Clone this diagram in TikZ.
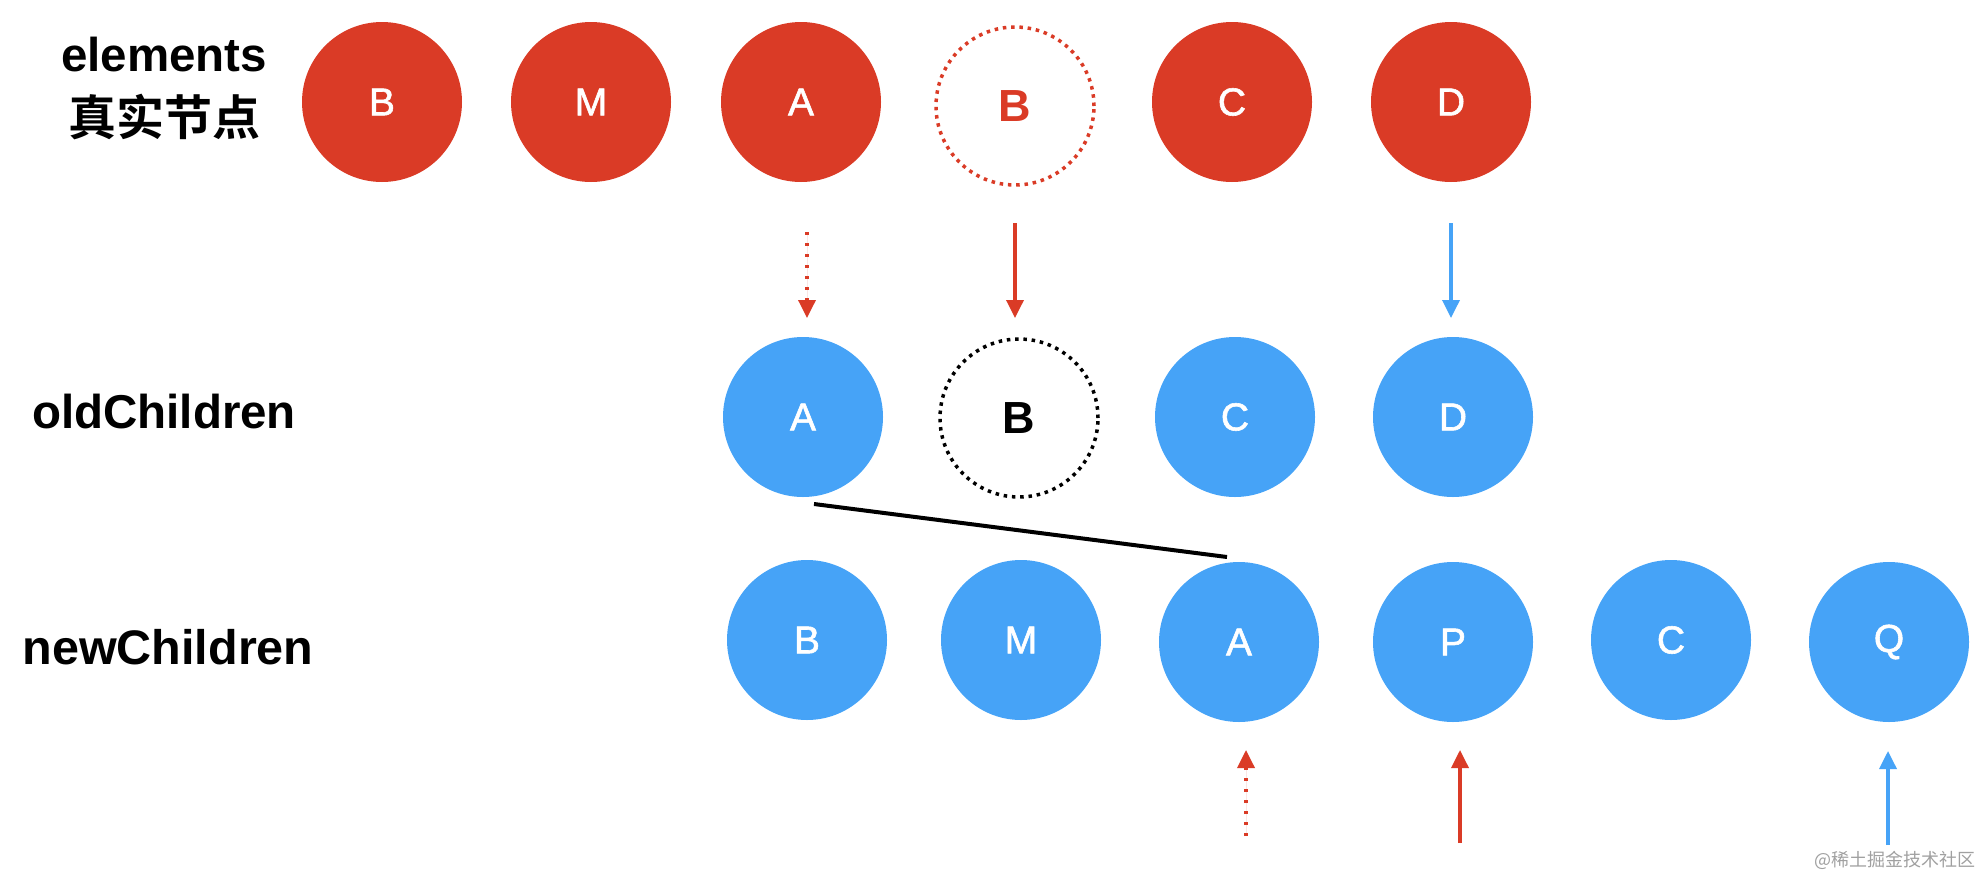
\documentclass[tikz,border=0pt]{standalone}
\usepackage{fontspec}
\setmainfont{Liberation Sans}
\newfontfamily\letterfont{Liberation Sans}[FakeBold=1.5]
\newfontfamily\cjk{Noto Sans CJK SC}
\newfontfamily\cjkb{Noto Sans CJK SC Bold}
\usetikzlibrary{arrows.meta}
\definecolor{kred}{HTML}{DA3B26}
\definecolor{kblue}{HTML}{46A3F7}
\definecolor{wmgray}{HTML}{A0A0A0}
\tikzset{
  ball/.style={circle, minimum size=160pt, inner sep=0pt, text=white,
    font=\letterfont\fontsize{39}{41}\selectfont},
  redball/.style={ball, fill=kred},
  blueball/.style={ball, fill=kblue},
  ghost/.style={circle, minimum size=158pt, inner sep=0pt, line width=3.5pt,
    dash pattern=on 3.5pt off 4.8pt, font=\bfseries\fontsize{45}{47}\selectfont},
  rowlabel/.style={inner sep=0pt, font=\bfseries\fontsize{47.5}{49}\selectfont},
  arr/.style={line width=3.5pt, -{Triangle[length=18pt,width=17pt]}},
  dotarr/.style={arr, dash pattern=on 3pt off 8pt},
}
\begin{document}
\begin{tikzpicture}[x=1pt,y=-1pt]
\useasboundingbox (0,0) rectangle (1982,876);
% labels
\node[rowlabel] (lel) at (164,55) {elements};
\node[inner sep=0pt, font=\cjkb\fontsize{48}{50}\selectfont] (lzs) at (164,117) {真实节点};
\node[rowlabel] (lold) at (164,412) {oldChildren};
\node[rowlabel, font=\bfseries\fontsize{48.5}{50}\selectfont] (lnew) at (168,647) {newChildren};
% elements row
\node[redball] (eB) at (382,102) {B};
\node[redball] (eM) at (591,102) {M};
\node[redball] (eA) at (801,102) {A};
\node[ghost, draw=kred, text=kred] (eB2) at (1015,106) {B};
\node[redball] (eC) at (1232,102) {C};
\node[redball] (eD) at (1451,102) {D};
% oldChildren row
\node[blueball] (oA) at (803,417) {A};
\node[ghost, draw=black, text=black] (oB) at (1019,418) {B};
\node[blueball] (oC) at (1235,417) {C};
\node[blueball] (oD) at (1453,417) {D};
% newChildren row
\node[blueball] (nB) at (807,640) {B};
\node[blueball] (nM) at (1021,640) {M};
\node[blueball] (nA) at (1239,642) {A};
\node[blueball] (nP) at (1453,642) {P};
\node[blueball] (nC) at (1671,640) {C};
\node[blueball] (nQ) at (1889,642) {Q};
% arrow endpoints
\coordinate (t1s) at (807,232);  \coordinate (t1e) at (807,318);
\coordinate (t2s) at (1015,223); \coordinate (t2e) at (1015,318);
\coordinate (t3s) at (1451,223); \coordinate (t3e) at (1451,318);
\coordinate (b1s) at (1246,836); \coordinate (b1e) at (1246,750);
\coordinate (b2s) at (1460,843); \coordinate (b2e) at (1460,750);
\coordinate (b3s) at (1888,845); \coordinate (b3e) at (1888,751);
\coordinate (ls) at (814,504);   \coordinate (le) at (1227,557);
% arrows
\draw[dotarr, draw=kred, fill=kred] (t1s) -- (t1e);
\draw[arr, draw=kred, fill=kred] (t2s) -- (t2e);
\draw[arr, draw=kblue, fill=kblue] (t3s) -- (t3e);
\draw[dotarr, draw=kred, fill=kred] (b1s) -- (b1e);
\draw[arr, draw=kred, fill=kred] (b2s) -- (b2e);
\draw[arr, draw=kblue, fill=kblue] (b3s) -- (b3e);
\draw[line width=4pt] (ls) -- (le);
% watermark
\node[inner sep=0pt, text=wmgray, font=\cjk\fontsize{18}{20}\selectfont] (wm) at (1895,860) {@稀土掘金技术社区};
\end{tikzpicture}
\end{document}
